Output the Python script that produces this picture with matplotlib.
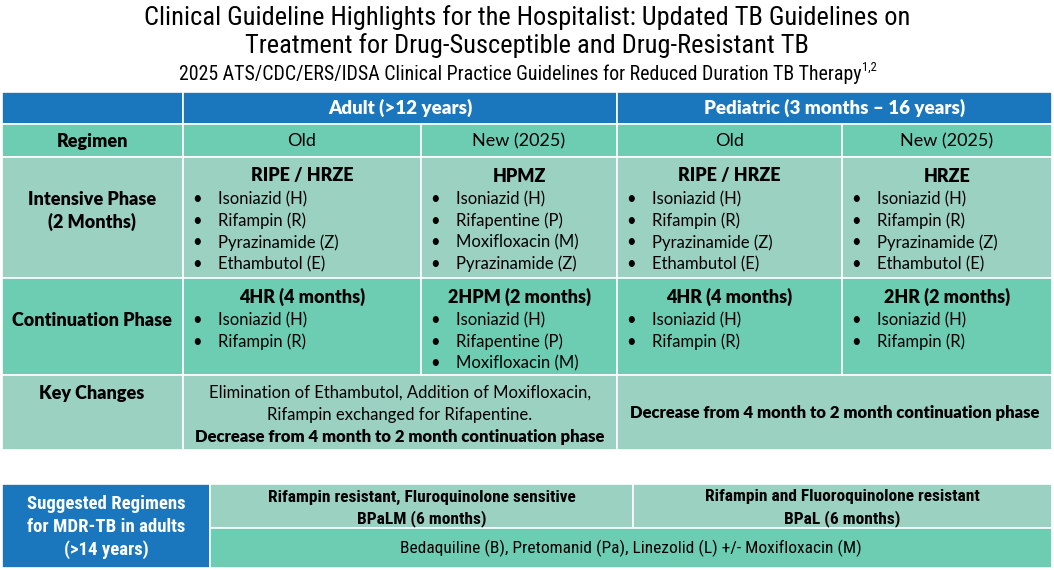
import matplotlib
matplotlib.use("Agg")
import matplotlib.pyplot as plt
from matplotlib.patches import Rectangle

BODY = "Lato"
NARROW = "Roboto Condensed"
BOLD = 800

BLUE = "#1a76bd"
MID = "#6ccdb3"
LIGHT = "#9bd1c1"

title_lines = ["Clinical Guideline Highlights for the Hospitalist: Updated TB Guidelines on",
               "Treatment for Drug-Susceptible and Drug-Resistant TB"]
subtitle = "2025 ATS/CDC/ERS/IDSA Clinical Practice Guidelines for Reduced Duration TB Therapy"
subtitle_refs = "1,2"

groups = ["Adult (>12 years)", "Pediatric (3 months \u2013 16 years)"]
columns = ["Old", "New (2025)", "Old", "New (2025)"]
row_labels = ["Regimen", "Intensive Phase\n(2 Months)", "Continuation Phase", "Key Changes"]

intensive_heads = ["RIPE / HRZE", "HPMZ", "RIPE / HRZE", "HRZE"]
intensive_drugs = [
    ["Isoniazid (H)", "Rifampin (R)", "Pyrazinamide (Z)", "Ethambutol (E)"],
    ["Isoniazid (H)", "Rifapentine (P)", "Moxifloxacin (M)", "Pyrazinamide (Z)"],
    ["Isoniazid (H)", "Rifampin (R)", "Pyrazinamide (Z)", "Ethambutol (E)"],
    ["Isoniazid (H)", "Rifampin (R)", "Pyrazinamide (Z)", "Ethambutol (E)"],
]
cont_heads = ["4HR (4 months)", "2HPM (2 months)", "4HR (4 months)", "2HR (2 months)"]
cont_drugs = [
    ["Isoniazid (H)", "Rifampin (R)"],
    ["Isoniazid (H)", "Rifapentine (P)", "Moxifloxacin (M)"],
    ["Isoniazid (H)", "Rifampin (R)"],
    ["Isoniazid (H)", "Rifampin (R)"],
]
adult_changes = ["Elimination of Ethambutol, Addition of Moxifloxacin,",
                 "Rifampin exchanged for Rifapentine."]
adult_changes_bold = "Decrease from 4 month to 2 month continuation phase"
ped_changes_bold = "Decrease from 4 month to 2 month continuation phase"

mdr_label = ["Suggested Regimens", "for MDR-TB in adults", "(>14 years)"]
mdr_heads = [["Rifampin resistant, Fluroquinolone sensitive", "BPaLM (6 months)"],
             ["Rifampin and Fluoroquinolone resistant", "BPaL (6 months)"]]
mdr_drugs = "Bedaquiline (B), Pretomanid (Pa), Linezolid (L) +/- Moxifloxacin (M)"

fig = plt.figure(figsize=(10.54, 5.70), dpi=100)
ax = fig.add_axes([0, 0, 1, 1])
ax.set_xlim(0, 1054)
ax.set_ylim(570, 0)
ax.axis("off")

def rect(x0, y0, x1, y1, c):
    ax.add_patch(Rectangle((x0, y0), x1 - x0, y1 - y0, facecolor=c,
                           edgecolor="white", linewidth=1.2))

def txt(x, y, s, size=12, bold=False, color="black", ha="center", family=None, va="center"):
    return ax.text(x, y, s, fontsize=size, fontweight=(BOLD if bold else "normal"),
                   color=color, ha=ha, va=va, family=family or BODY)

# Titles
txt(527, 18, title_lines[0], size=19, family=NARROW)
txt(527, 46, title_lines[1], size=19, family=NARROW)
sub = txt(520, 74, subtitle, size=14.3, family=NARROW)
fig.canvas.draw()
bb = sub.get_window_extent(fig.canvas.get_renderer())
x_end = ax.transData.inverted().transform((bb.x1, bb.y1))[0]
txt(x_end + 1, 67, subtitle_refs, size=9, family=NARROW, ha="left")

xs = [2, 183, 421, 617, 842, 1052]
ys = [92, 124, 157, 278, 375, 450]

# header row
rect(xs[0], ys[0], xs[1], ys[1], BLUE)
rect(xs[1], ys[0], xs[3], ys[1], BLUE)
rect(xs[3], ys[0], xs[5], ys[1], BLUE)
txt((xs[1] + xs[3]) / 2, 108, groups[0], size=13.5, bold=True, color="white")
txt((xs[3] + xs[5]) / 2, 108, groups[1], size=13.5, bold=True, color="white")

row_colors = [MID, LIGHT, MID, LIGHT]
for r in range(4):
    rect(xs[0], ys[r + 1], xs[1], ys[r + 2], row_colors[r])
    if r < 3:
        for c in range(4):
            rect(xs[c + 1], ys[r + 1], xs[c + 2], ys[r + 2], row_colors[r])
    else:
        rect(xs[1], ys[r + 1], xs[3], ys[r + 2], row_colors[r])
        rect(xs[3], ys[r + 1], xs[5], ys[r + 2], row_colors[r])

# row labels
lab_x = 92
txt(lab_x, 141, row_labels[0], size=13, bold=True)
t = txt(lab_x, 211, row_labels[1], size=13, bold=True)
t.set_linespacing(1.35)
txt(lab_x, 320, row_labels[2], size=13, bold=True)
txt(lab_x, 393, row_labels[3], size=13, bold=True)

# regimen row
for c in range(4):
    txt((xs[c + 1] + xs[c + 2]) / 2, 141, columns[c], size=13)

step = 21.7
for c in range(4):
    x0 = xs[c + 1]
    cx = (xs[c + 1] + xs[c + 2]) / 2
    txt(cx, 176, intensive_heads[c], size=13, bold=True)
    for i, d in enumerate(intensive_drugs[c]):
        y = 199 + i * step
        txt(x0 + 14, y, "\u2022", size=12)
        txt(x0 + 35, y, d, size=12, ha="left")
    txt(cx, 297, cont_heads[c], size=13, bold=True)
    for i, d in enumerate(cont_drugs[c]):
        y = 320 + i * step
        txt(x0 + 14, y, "\u2022", size=12)
        txt(x0 + 35, y, d, size=12, ha="left")

# key changes
kx = (xs[1] + xs[3]) / 2
txt(kx, 393, adult_changes[0], size=12)
txt(kx, 415, adult_changes[1], size=12)
txt(kx, 437, adult_changes_bold, size=12, bold=True)
txt((xs[3] + xs[5]) / 2, 413, ped_changes_bold, size=12, bold=True)

# MDR table
bx = [2, 210, 633, 1052]
by = [484, 528, 568]
rect(bx[0], by[0], bx[1], by[2], BLUE)
rect(bx[1], by[0], bx[2], by[1], LIGHT)
rect(bx[2], by[0], bx[3], by[1], LIGHT)
rect(bx[1], by[1], bx[3], by[2], MID)
for i, s in enumerate(mdr_label):
    txt((bx[0] + bx[1]) / 2, 504 + i * 23, s, size=13.5, bold=True, color="white", family=NARROW)
for k in range(2):
    cx = (bx[k + 1] + bx[k + 2]) / 2
    txt(cx, 497, mdr_heads[k][0], size=12.5, bold=True, family=NARROW)
    txt(cx, 519, mdr_heads[k][1], size=12.5, bold=True, family=NARROW)
txt((bx[1] + bx[3]) / 2, 548, mdr_drugs, size=12.5, family=NARROW)

fig.savefig("out.png", dpi=100)
